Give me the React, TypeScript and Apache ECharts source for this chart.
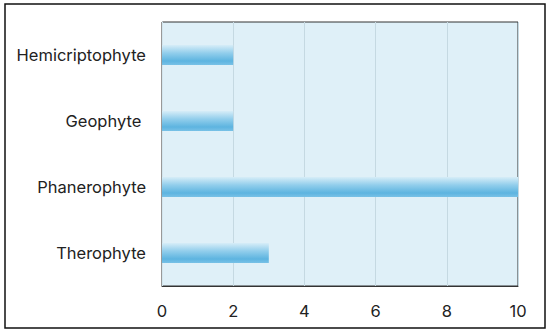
import React, { useEffect, useRef } from "react";
import * as echarts from "echarts";

const categories = ["Therophyte", "Phanerophyte", "Geophyte ", "Hemicriptophyte"];
const values = [3, 10, 2, 2];
const xTicks = { min: 0, max: 10, interval: 2 };

export default function App() {
  const ref = useRef<HTMLDivElement>(null);
  useEffect(() => {
    const chart = echarts.init(ref.current!, undefined, { renderer: "svg" });
    chart.setOption({
      animation: false,
      backgroundColor: "#ffffff",
      textStyle: { fontFamily: "Inter" },
      graphic: [
        {
          type: "rect",
          shape: { x: 5, y: 4, width: 540, height: 324 },
          style: { fill: "none", stroke: "#111", lineWidth: 1.5 },
          z: 100,
        },
      ],
      grid: {
        left: 162,
        right: 32,
        top: 22,
        bottom: 47,
        show: true,
        backgroundColor: "#dff0f8",
        borderColor: "#333",
        borderWidth: 1,
      },
      xAxis: {
        type: "value",
        min: xTicks.min,
        max: xTicks.max,
        interval: xTicks.interval,
        axisLine: { show: true, lineStyle: { color: "#333", width: 1 } },
        axisTick: { show: false },
        axisLabel: { color: "#222", fontSize: 16.5, margin: 16 },
        splitLine: { show: true, lineStyle: { color: "#c5d9e2", width: 1 } },
      },
      yAxis: {
        type: "category",
        data: categories,
        axisLine: { show: true, lineStyle: { color: "#d3e6ee", width: 1 } },
        axisTick: { show: false },
        axisLabel: { color: "#222", fontSize: 16.5, margin: 16 },
      },
      series: [
        {
          type: "bar",
          data: values,
          barWidth: 20,
          itemStyle: {
            color: new echarts.graphic.LinearGradient(0, 0, 0, 1, [
              { offset: 0, color: "#d6edf8" },
              { offset: 0.4, color: "#92ceec" },
              { offset: 0.8, color: "#5db4e0" },
              { offset: 1, color: "#78c1e6" },
            ]),
          },
        },
      ],
    });
    return () => chart.dispose();
  }, []);
  return <div ref={ref} style={{ width: 550, height: 333, position: "absolute", left: 0, top: 0 }} />;
}
